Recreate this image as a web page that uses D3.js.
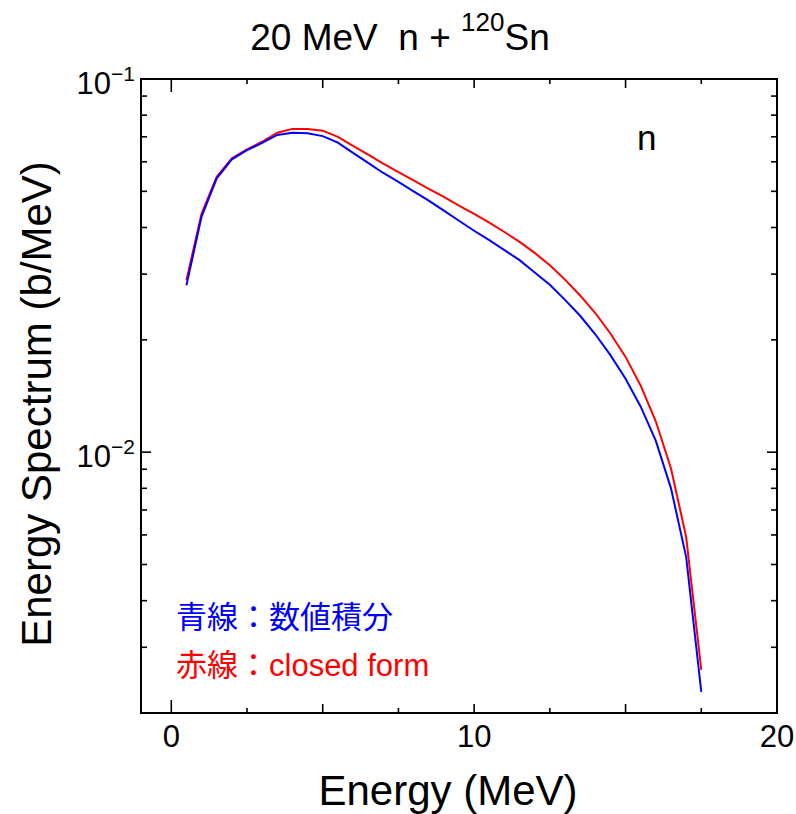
<!DOCTYPE html>
<html><head><meta charset="utf-8">
<script src="https://cdn.jsdelivr.net/npm/d3@7"></script>
<style>
body{margin:0;background:#fff}
svg{display:block}
text{font-family:"Liberation Sans",Arial,"Noto Sans CJK JP",sans-serif;fill:#000}
</style>
</head><body>
<svg id="chart" width="796" height="814"></svg>
<script>
// ---- data ----
const energies = [0.5,1.0,1.5,2.0,2.5,3.0,3.5,4.0,4.5,5.0,5.5,6.0,6.5,7.0,7.5,8.0,8.5,9.0,9.5,10.0,
  10.5,11.0,11.5,12.0,12.5,13.0,13.5,14.0,14.5,15.0,15.5,16.0,16.5,17.0,17.5];
// blue: numerical integration
const numerical = [0.0280,0.0428,0.0542,0.0609,0.0645,0.0674,0.0708,0.0718,0.0715,0.0703,0.0675,0.0634,
  0.0596,0.0560,0.0530,0.0500,0.0472,0.0444,0.0417,0.0392,0.0370,0.0348,0.0327,0.0303,0.0281,0.0256,
  0.0232,0.0207,0.0182,0.01574,0.01324,0.01072,0.0080,0.00524,0.00228];
// red: closed form
const closedForm = [0.0289,0.0436,0.0547,0.0613,0.0648,0.0679,0.0718,0.0735,0.0735,0.0727,0.0700,0.0662,
  0.0627,0.0593,0.0563,0.0535,0.0508,0.0483,0.0458,0.0435,0.0412,0.0389,0.0366,0.0342,0.0317,0.0290,
  0.0263,0.0236,0.0208,0.0180,0.01507,0.01208,0.00904,0.00593,0.00261];
const xTickLabels = [0,10,20];
const xTickValues = [0,2.5,5,7.5,10,12.5,15,17.5,20];
const yMajorExponents = [-1,-2];
const legendLabels = ["青線：数値積分","赤線：closed form"];
const seriesColors = ["#0000ff","#ff0000"];

// ---- layout ----
const L=141,R=777,T=79,B=713;
const svg = d3.select("#chart");
const x = d3.scaleLinear().domain([-1,20]).range([L,R]);
const y = d3.scaleLog().domain([0.002,0.1]).range([B,T]);

// frame
svg.append("rect").attr("x",L).attr("y",T).attr("width",R-L).attr("height",B-T)
  .attr("fill","none").attr("stroke","#000").attr("stroke-width",2);

// x ticks (bottom & top, inward)
const xLen = v => v===0 ? 13 : (v%5===0 ? 9 : 5);
const g = svg.append("g").attr("stroke","#000").attr("stroke-width",1.6);
xTickValues.forEach(v=>{
  const px = x(v);
  g.append("line").attr("x1",px).attr("x2",px).attr("y1",B).attr("y2",B-xLen(v));
  g.append("line").attr("x1",px).attr("x2",px).attr("y1",T).attr("y2",T+xLen(v));
});
// y ticks (left & right, inward)
const majors = yMajorExponents.map(e=>Math.pow(10,e));
y.ticks().forEach(v=>{
  const isMajor = majors.some(m=>Math.abs(m-v)/m<1e-6);
  const len = isMajor ? 10 : 6;
  const py = y(v);
  g.append("line").attr("x1",L).attr("x2",L+len).attr("y1",py).attr("y2",py);
  g.append("line").attr("x1",R).attr("x2",R-len).attr("y1",py).attr("y2",py);
});

// x tick labels
xTickLabels.forEach(v=>{
  svg.append("text").attr("x",x(v)).attr("y",747).attr("text-anchor","middle")
    .attr("font-size",31).text(v);
});
// y tick labels 10^n
yMajorExponents.forEach(e=>{
  const t = svg.append("text").attr("x",135).attr("y",y(Math.pow(10,e))+15)
    .attr("text-anchor","end").attr("font-size",31);
  t.append("tspan").text("10");
  t.append("tspan").attr("dy",-13).attr("font-size",21).text("\u2212"+Math.abs(e));
});

// axis titles
svg.append("text").attr("x",448).attr("y",805).attr("text-anchor","middle")
  .attr("font-size",42).text("Energy (MeV)");
svg.append("text").attr("transform","translate(51,404) rotate(-90)").attr("text-anchor","middle")
  .attr("font-size",42).text("Energy Spectrum (b/MeV)");

// title
const title = svg.append("text").attr("x",400).attr("y",50).attr("text-anchor","middle")
  .attr("font-size",37);
title.append("tspan").text("20 MeV\u00a0\u00a0n + ");
title.append("tspan").attr("dy",-19).attr("font-size",26).text("120");
title.append("tspan").attr("dy",19).text("Sn");

// panel label
svg.append("text").attr("x",637).attr("y",150).attr("font-size",35).text("n");

// curves
const line = d3.line().x(d=>x(d[0])).y(d=>y(d[1]));
svg.append("path").datum(energies.map((e,i)=>[e,closedForm[i]]))
  .attr("d",line).attr("fill","none").attr("stroke",seriesColors[1]).attr("stroke-width",2);
svg.append("path").datum(energies.map((e,i)=>[e,numerical[i]]))
  .attr("d",line).attr("fill","none").attr("stroke",seriesColors[0]).attr("stroke-width",2);

// legend text
svg.append("text").attr("x",176).attr("y",628).attr("font-size",31)
  .style("fill",seriesColors[0]).text(legendLabels[0]);
svg.append("text").attr("x",176).attr("y",676).attr("font-size",31)
  .style("fill",seriesColors[1]).text(legendLabels[1]);
</script>
</body></html>
